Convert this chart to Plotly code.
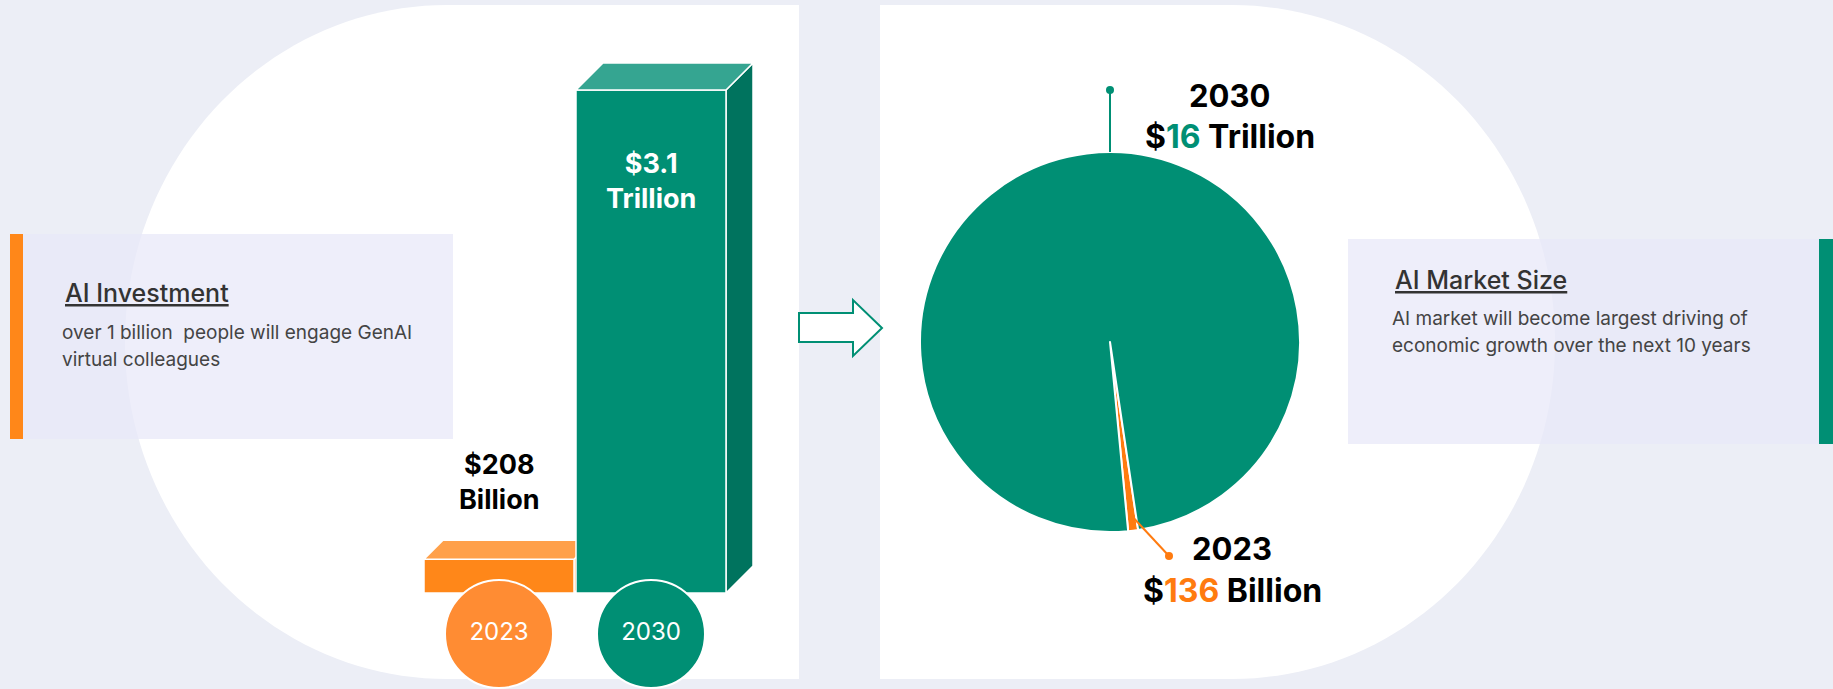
import numpy as np
import plotly.graph_objects as go

W, H = 1833, 689

# ---------------- data ----------------
years = ["2023", "2030"]
investment_bn = [208, 3100]                      # AI investment, $ billions
investment_labels = ["$208<br>Billion", "$3.1<br>Trillion"]

market_years = ["2023", "2030"]
market_bn = [136, 16000]                         # AI market size, $ billions
market_amounts = ["136", "16"]
market_units = ["Billion", "Trillion"]

# ---------------- styling ----------------
FONT = "Inter"
BG = "#ECEEF6"
GREEN = "#008F74"
GREEN_TOP = "#35A591"
GREEN_SIDE = "#00735E"
ORANGE = "#FF8719"
ORANGE_TOP = "#FFA04A"
ORANGE_CIRCLE = "#FF8C33"
ORANGE_PIE = "#FF7B0F"
BOX_FILL = "rgba(232,232,248,0.75)"
TEXT_DARK = "#333333"
TEXT_BODY = "#444444"

bar_front = [ORANGE, GREEN]
bar_top = [ORANGE_TOP, GREEN_TOP]
bar_side = [ORANGE, GREEN_SIDE]
circle_colors = [ORANGE_CIRCLE, GREEN]
bar_depth_px = [19, 27]


def px(x):
    return x / W


def py(y):
    return 1 - y / H


def poly_path(points):
    return "M " + " L ".join(f"{px(x):.5f},{py(y):.5f}" for x, y in points) + " Z"


# ---------------- bar axis set-up ----------------
# category spacing and value scale of the bar panel
cat_px = 152.0              # pixels between the two bars
cat0_px = 499.0             # centre of first bar
base_px = 593.0             # bar baseline
top_px = 90.0               # where the largest value reaches
unit_px = (base_px - top_px) / max(investment_bn)

x_lo = -cat0_px / cat_px
x_hi = (W - cat0_px) / cat_px
y_lo = -(H - base_px) / unit_px
y_hi = base_px / unit_px

half_w = 75.0 / cat_px

fig = go.Figure()

for i, v in enumerate(investment_bn):
    dx = bar_depth_px[i] / cat_px
    dy = bar_depth_px[i] / unit_px
    c = i
    faces = [
        ([c + half_w, c + half_w + dx, c + half_w + dx, c + half_w],
         [0, dy, v + dy, v], bar_side[i]),
        ([c - half_w, c + half_w, c + half_w, c - half_w],
         [0, 0, v, v], bar_front[i]),
        ([c - half_w, c - half_w + dx, c + half_w + dx, c + half_w],
         [v, v + dy, v + dy, v], bar_top[i]),
    ]
    for fx, fy, col in faces:
        fig.add_trace(go.Scatter(
            x=fx + [fx[0]], y=fy + [fy[0]], mode="lines", fill="toself",
            fillcolor=col, line=dict(color="white", width=1.5),
            hoverinfo="skip", showlegend=False, xaxis="x", yaxis="y"))

# year badges under the bars
badge_y = -(634 - base_px) / unit_px
fig.add_trace(go.Scatter(
    x=list(range(len(years))), y=[badge_y] * len(years),
    mode="markers+text", text=years, textposition="middle center",
    textfont=dict(family=FONT, size=24, color="white"),
    marker=dict(size=108, color=circle_colors, line=dict(color="white", width=2)),
    hoverinfo="skip", showlegend=False, cliponaxis=False))

# ---------------- pie ----------------
pie_cx, pie_cy, pie_r = 1110.0, 342.0, 190.0
total = sum(market_bn)
small_frac = market_bn[0] / total
pie_rotation = 173.0 - small_frac * 180.0

fig.add_trace(go.Pie(
    labels=market_years, values=market_bn, sort=False,
    direction="clockwise", rotation=pie_rotation,
    marker=dict(colors=[ORANGE_PIE, GREEN], line=dict(color="white", width=2)),
    textinfo="none", hoverinfo="label+value", showlegend=False,
    domain=dict(x=[px(pie_cx - pie_r), px(pie_cx + pie_r)],
                y=[py(pie_cy + pie_r), py(pie_cy - pie_r)])))

# ---------------- background shapes ----------------
shapes = []

t = np.linspace(0, np.pi, 90)
left_panel = [(447 - 322 * np.sin(a), 342 - 337 * np.cos(a)) for a in t]
left_panel += [(799, 679), (799, 5)]
shapes.append(dict(type="path", path=poly_path(left_panel), xref="paper", yref="paper",
                   fillcolor="white", line=dict(width=0), layer="below"))

right_panel = [(880, 5)] + [(1232 + 323 * np.sin(a), 342 - 337 * np.cos(a)) for a in t]
right_panel += [(880, 679)]
shapes.append(dict(type="path", path=poly_path(right_panel), xref="paper", yref="paper",
                   fillcolor="white", line=dict(width=0), layer="below"))

# info boxes with accent bars
for (x0, y0, x1, y1, col) in [(23, 234, 453, 439, BOX_FILL), (10, 234, 23, 439, ORANGE),
                              (1348, 239, 1819, 444, BOX_FILL), (1819, 239, 1833, 444, GREEN)]:
    shapes.append(dict(type="rect", xref="paper", yref="paper",
                       x0=px(x0), x1=px(x1), y0=py(y1), y1=py(y0),
                       fillcolor=col, line=dict(width=0), layer="below"))

# hollow arrow between the panels
arrow = [(799, 313), (853, 313), (853, 300), (882, 328), (853, 356), (853, 342), (799, 342)]
shapes.append(dict(type="path", path=poly_path(arrow), xref="paper", yref="paper",
                   fillcolor="white", line=dict(color=GREEN, width=2), layer="below"))

# pie leader lines
top_pt = (pie_cx, pie_cy - pie_r)
shapes.append(dict(type="line", xref="paper", yref="paper",
                   x0=px(top_pt[0]), y0=py(top_pt[1]), x1=px(top_pt[0]), y1=py(90),
                   line=dict(color=GREEN, width=2), layer="above"))
mid_ang = np.deg2rad(pie_rotation + small_frac * 180.0)
start = (pie_cx + 0.92 * pie_r * np.sin(mid_ang), pie_cy - 0.92 * pie_r * np.cos(mid_ang))
shapes.append(dict(type="line", xref="paper", yref="paper",
                   x0=px(start[0]), y0=py(start[1]), x1=px(1169), y1=py(556),
                   line=dict(color=ORANGE_PIE, width=2), layer="above"))
for (cx, cy, col) in [(top_pt[0], 90, GREEN), (1169, 556, ORANGE_PIE)]:
    shapes.append(dict(type="circle", xref="paper", yref="paper",
                       x0=px(cx - 4), x1=px(cx + 4), y0=py(cy + 4), y1=py(cy - 4),
                       fillcolor=col, line=dict(width=0), layer="above"))

# ---------------- text ----------------
ann = []


def text_at(x, y, s, size, color, xanchor="center", weight=400):
    ann.append(dict(x=px(x), y=py(y), xref="paper", yref="paper", text=s,
                    showarrow=False, xanchor=xanchor, yanchor="middle",
                    font=dict(family=FONT, size=size, color=color, weight=weight)))


# info boxes
text_at(63, 293, "<u>AI Investment</u>", 25, TEXT_DARK, "left", 500)
text_at(60, 332, "over 1 billion  people will engage GenAI", 19, TEXT_BODY, "left")
text_at(60, 359, "virtual colleagues", 19, TEXT_BODY, "left")
text_at(1393, 280, "<u>AI Market Size</u>", 25, TEXT_DARK, "left", 500)
text_at(1390, 318, "AI market will become largest driving of", 19, TEXT_BODY, "left")
text_at(1390, 346, "economic growth over the next 10 years", 19, TEXT_BODY, "left")

# pie labels
text_at(1229, 95, f"<b>{market_years[1]}</b>", 31, "black")
text_at(1230, 137, f"<b>$<span style='color:{GREEN}'>{market_amounts[1]}</span> "
                   f"{market_units[1]}</b>", 32, "black")
text_at(1232, 548, f"<b>{market_years[0]}</b>", 31, "black")
text_at(1232, 590, f"<b>$<span style='color:{ORANGE_PIE}'>{market_amounts[0]}</span> "
                   f"{market_units[0]}</b>", 32, "black")

# bar value labels (anchored to the bar tops)
ann.append(dict(x=0, y=investment_bn[0], xref="x", yref="y",
                text=f"<b>{investment_labels[0]}</b>", showarrow=False,
                xanchor="center", yanchor="middle", yshift=77,
                font=dict(family=FONT, size=27, color="black")))
ann.append(dict(x=1, y=investment_bn[1], xref="x", yref="y",
                text=f"<b>{investment_labels[1]}</b>", showarrow=False,
                xanchor="center", yanchor="middle", yshift=-91,
                font=dict(family=FONT, size=27, color="white")))

fig.update_layout(
    width=W, height=H,
    margin=dict(l=0, r=0, t=0, b=0),
    paper_bgcolor=BG, plot_bgcolor="rgba(0,0,0,0)",
    xaxis=dict(domain=[0, 1], range=[x_lo, x_hi], visible=False, fixedrange=True),
    yaxis=dict(domain=[0, 1], range=[y_lo, y_hi], visible=False, fixedrange=True),
    shapes=shapes, annotations=ann,
    showlegend=False,
)

fig.write_html("out.html")
